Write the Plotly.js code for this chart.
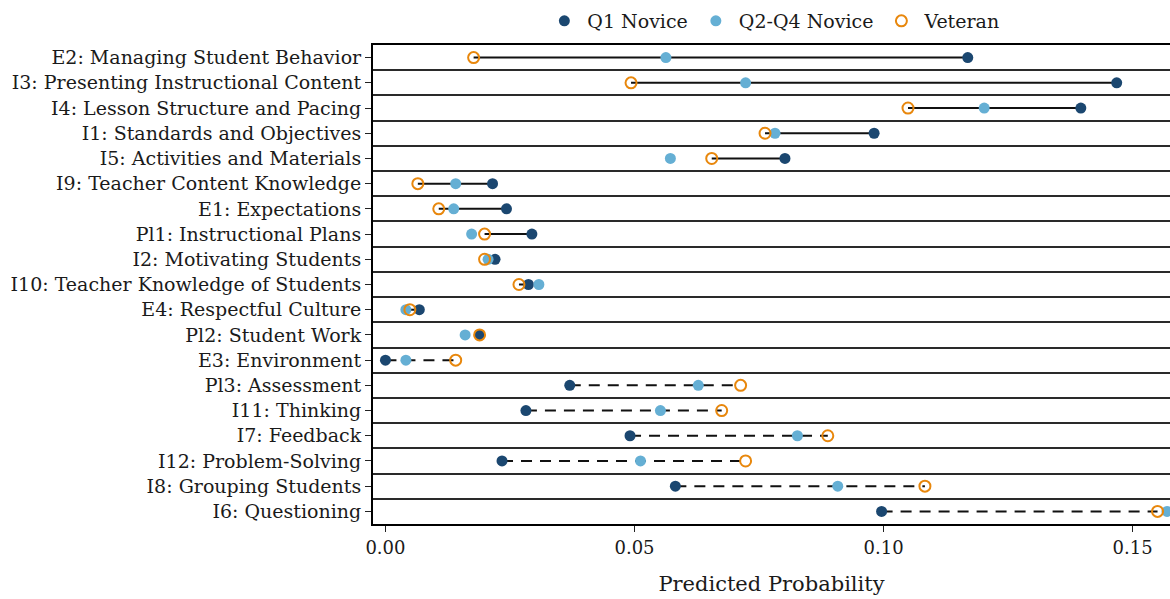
<!DOCTYPE html>
<html>
<head>
<meta charset="utf-8">
<script src="https://cdn.plot.ly/plotly-3.0.1.min.js"></script>
<style>html,body{margin:0;padding:0;background:#fff;}#chart{width:1170px;height:599px;}</style>
</head>
<body>
<div id="chart"></div>
<script>
const categories = [
  "E2: Managing Student Behavior",
  "I3: Presenting Instructional Content",
  "I4: Lesson Structure and Pacing",
  "I1: Standards and Objectives",
  "I5: Activities and Materials",
  "I9: Teacher Content Knowledge",
  "E1: Expectations",
  "Pl1: Instructional Plans",
  "I2: Motivating Students",
  "I10: Teacher Knowledge of Students",
  "E4: Respectful Culture",
  "Pl2: Student Work",
  "E3: Environment",
  "Pl3: Assessment",
  "I11: Thinking",
  "I7: Feedback",
  "I12: Problem-Solving",
  "I8: Grouping Students",
  "I6: Questioning"
];
const q1Novice = [0.1169, 0.1468, 0.1396, 0.0981, 0.0802, 0.0215, 0.0243, 0.0294, 0.0220, 0.0287, 0.0068, 0.0189, 0.0000, 0.0370, 0.0282, 0.0491, 0.0234, 0.0582, 0.0996];
const q2q4Novice = [0.0563, 0.0723, 0.1202, 0.0782, 0.0572, 0.0141, 0.0137, 0.0173, 0.0206, 0.0308, 0.0041, 0.0160, 0.0041, 0.0628, 0.0552, 0.0827, 0.0512, 0.0908, 0.1569];
const veteran = [0.0177, 0.0493, 0.1049, 0.0762, 0.0655, 0.0065, 0.0107, 0.0199, 0.0199, 0.0268, 0.0049, 0.0189, 0.0141, 0.0713, 0.0675, 0.0888, 0.0723, 0.1083, 0.1550];
const xTickVals = [0, 0.05, 0.10, 0.15];
const xTickText = ["0.00", "0.05", "0.10", "0.15"];

const idx = categories.map((c, i) => i);
const FONT = "DejaVu Serif, Liberation Serif, serif";

// connecting segments Q1 <-> Veteran
const solidX = [], solidY = [], dashX = [], dashY = [];
idx.forEach(i => {
  if (q1Novice[i] >= veteran[i]) {
    solidX.push(q1Novice[i], veteran[i], null); solidY.push(i, i, null);
  } else {
    dashX.push(q1Novice[i], veteran[i], null); dashY.push(i, i, null);
  }
});

const traces = [
  {x: solidX, y: solidY, mode: "lines", type: "scatter", showlegend: false, hoverinfo: "skip",
   line: {color: "#111", width: 2}},
  {x: dashX, y: dashY, mode: "lines", type: "scatter", showlegend: false, hoverinfo: "skip",
   line: {color: "#111", width: 2, dash: "11px,8px"}},
  {x: q1Novice, y: idx, mode: "markers", type: "scatter", name: "Q1 Novice",
   marker: {color: "#1b4770", size: 11}},
  {x: q2q4Novice, y: idx, mode: "markers", type: "scatter", name: "Q2-Q4 Novice",
   marker: {color: "#65afd4", size: 11}},
  {x: veteran, y: idx, mode: "markers", type: "scatter", name: "Veteran",
   marker: {symbol: "circle-open", color: "#e8870c", size: 11, line: {width: 2, color: "#e8870c"}}}
];

const layout = {
  width: 1170, height: 599,
  margin: {l: 373, r: 0, t: 45, b: 75},
  paper_bgcolor: "#fff", plot_bgcolor: "#fff",
  font: {family: FONT, size: 19, color: "#1a1a1a"},
  showlegend: true,
  legend: {orientation: "h", xref: "container", yref: "container", x: 0.661, xanchor: "center",
           y: 0.965, yanchor: "middle", font: {family: FONT, size: 19, color: "#1a1a1a"},
           traceorder: "normal", itemwidth: 36},
  xaxis: {
    range: [-0.0025, 0.1575], tickmode: "array", tickvals: xTickVals, ticktext: xTickText,
    showgrid: false, zeroline: false, showline: true, linecolor: "#000", linewidth: 2, mirror: true,
    ticks: "outside", ticklen: 6, tickwidth: 1.2, tickcolor: "#222",
    tickfont: {family: FONT, size: 18, color: "#1a1a1a"},
    title: {text: "Predicted Probability", font: {family: FONT, size: 21, color: "#1a1a1a"}, standoff: 20}
  },
  yaxis: {
    range: [categories.length - 0.5, -0.5], tickmode: "array", tickvals: idx, ticktext: categories,
    showgrid: false, zeroline: false, showline: true, linecolor: "#000", linewidth: 2,
    ticks: "outside", ticklen: 6, tickwidth: 1.2, tickcolor: "#222",
    tickfont: {family: FONT, size: 19, color: "#1a1a1a"},
    minor: {tickmode: "linear", tick0: 0.5, dtick: 1, showgrid: true, gridcolor: "#2a2a2a", gridwidth: 1.6, ticks: ""}
  }
};

Plotly.newPlot("chart", traces, layout, {displayModeBar: false, responsive: false});
</script>
</body>
</html>
